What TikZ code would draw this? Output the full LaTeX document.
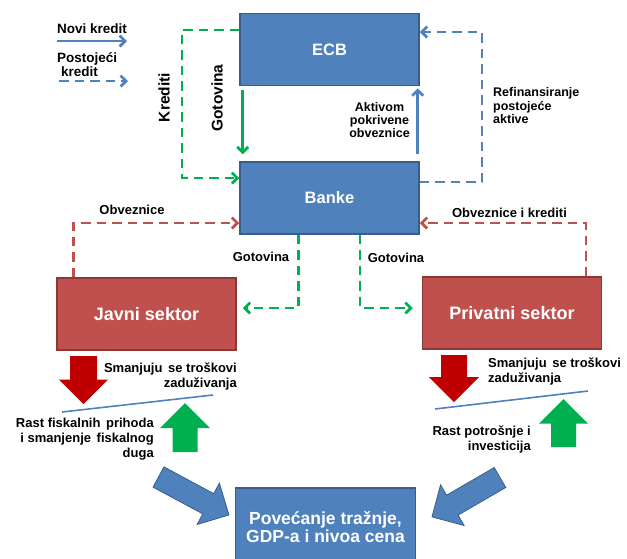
\documentclass[tikz,border=0pt]{standalone}
\usepackage{fontspec}
\setmainfont{Liberation Sans}
\usetikzlibrary{arrows.meta}

\definecolor{boxblue}{HTML}{4F81BD}
\definecolor{boxblueline}{HTML}{385D8A}
\definecolor{boxred}{HTML}{C0504D}
\definecolor{boxredline}{HTML}{8C3836}
\definecolor{arrred}{HTML}{C00000}
\definecolor{arrgreen}{HTML}{00B050}

\begin{document}
\begin{tikzpicture}
  [
    x = 1pt, y = -1pt,
    font = \bfseries\fontsize{13}{15}\selectfont,
    lbl/.style = {inner sep = 0pt},
    bluebox/.style = {draw = boxblueline, line width = 1.5pt, fill = boxblue, text = white,
        minimum width = 179pt, minimum height = 72pt, inner sep = 0pt,
        font = \bfseries\fontsize{16.5}{19}\selectfont},
    redbox/.style = {bluebox, draw = boxredline, fill = boxred,
        font = \bfseries\fontsize{18}{20}\selectfont},
    flow/.style = {line width = 2.8pt, -{Straight Barb[length = 5.5pt, width = 11pt]}},
    dashflow/.style = {flow, dash pattern = on 9.5pt off 6pt},
    blockarrow/.style = {fill = boxblue, draw = boxblueline, line width = 0.8pt},
  ]

  \useasboundingbox (0,0) rectangle (627,558);

  \node [bluebox] (ecb) at (329.5,49.5) {ECB};
  \node [bluebox] (banke) at (329.5,198) {Banke};
  \node [redbox] (javni) at (146.5,314) {Javni sektor};
  \node [redbox] (privatni) at (512,313) {Privatni sektor};
  \node [bluebox, minimum width = 180pt, minimum height = 78pt, align = center,
      font = \bfseries\fontsize{17.5}{18.5}\selectfont] (potraznja) at (325.5,527)
      {Povećanje tražnje,\\GDP-a i nivoa cena};

  \node [lbl, anchor = west, font = \bfseries\fontsize{13.5}{15}\selectfont] (novi) at (57,29) {Novi kredit};
  \node [lbl, anchor = west, align = left, font = \bfseries\fontsize{13.5}{14.5}\selectfont] (postojeci) at (57,64.5)
      {Postojeći\\\hspace{4pt}kredit};
  \coordinate (nk1) at (57,41);
  \coordinate (nk2) at (127,41);
  \coordinate (pk1) at (59,81);
  \coordinate (pk2) at (128,81);
  \draw [flow, boxblue] (nk1) -- (nk2);
  \draw [dashflow, boxblue] (pk1) -- (pk2);

  \draw [dashflow, arrgreen] ([yshift = 19.5pt]ecb.west) -| (182,100) |- ([yshift = 20pt]banke.west);
  \draw [flow, arrgreen, shorten <= 4pt, shorten >= 7pt] ([xshift = 3.5pt]ecb.south west) -- ([xshift = 3.5pt]banke.north west);
  \draw [flow, boxblue, shorten <= 7pt, shorten >= 2pt] ([xshift = -2pt]banke.north east) -- ([xshift = -2pt]ecb.south east);
  \draw [dashflow, boxblue] ([yshift = 16pt]banke.east) -| (482,100) |- ([yshift = 17.5pt]ecb.east);
  \draw [dashflow, boxred] ([xshift = 17pt]javni.north west) |- ([yshift = -25pt]banke.west);
  \draw [dashflow, boxred] ([xshift = 74pt]privatni.north) |- ([yshift = -25pt]banke.east);
  \draw [dashflow, arrgreen] ([xshift = -31pt]banke.south) |- ([xshift = 6pt, yshift = 6pt]javni.east);
  \draw [dashflow, arrgreen] ([xshift = 30.5pt]banke.south) |- ([xshift = -9pt, yshift = 5pt]privatni.west);

  \node [lbl, rotate = 90, font = \bfseries\fontsize{15.5}{18}\selectfont] (kreditilbl) at (164,97.5) {Krediti};
  \node [lbl, rotate = 90, font = \bfseries\fontsize{15.5}{18}\selectfont] (gotovinalbl) at (217,98) {Gotovina};
  \node [lbl, align = center, font = \bfseries\fontsize{12.5}{13}\selectfont] (aktivomlbl) at (379.5,120)
      {Aktivom\\pokrivene\\obveznice};
  \node [lbl, anchor = west, align = left, font = \bfseries\fontsize{12.5}{13.5}\selectfont] (refinlbl) at (493,106)
      {Refinansiranje\\postojeće\\aktive};
  \node [lbl] (obvlbl) at (132,210) {Obveznice};
  \node [lbl] (obvkrlbl) at (509.5,213) {Obveznice i krediti};
  \node [lbl] (gotlevo) at (261,257) {Gotovina};
  \node [lbl] (gotdesno) at (396,258) {Gotovina};

  \foreach \px/\py/\ang/\len/\shaft/\head/\col in
      {83.5/356/-90/48/13.5/24.5/arrred, 185/452/90/49/12.5/25/arrgreen,
       454/355/-90/47/13/25/arrred, 563.5/447/90/48/12.5/24.5/arrgreen}{
      \fill [\col, shift = {(\px,\py)}, rotate = \ang]
        (0,-\shaft) -- (\len-\head,-\shaft) -- (\len-\head,-\head) -- (\len,0)
        -- (\len-\head,\head) -- (\len-\head,\shaft) -- (0,\shaft) -- cycle;
    }

  \coordinate (javnil) at (62,412);
  \coordinate (javnid) at (213,395);
  \coordinate (privl) at (435,409);
  \coordinate (privd) at (588,391);
  \draw [boxblue, line width = 1.6pt] (javnil) -- (javnid);
  \draw [boxblue, line width = 1.6pt] (privl) -- (privd);

  \node [lbl, anchor = east, align = right] (smanjl) at (237,376.5) {Smanjuju\hspace{2pt} se troškovi\\zaduživanja};
  \node [lbl, anchor = east, align = right] (fiskal) at (154,439.5) {Rast fiskalnih\hspace{2pt} prihoda\\i smanjenje\hspace{2pt} fiskalnog\\duga};
  \node [lbl, anchor = west, align = left] (smanjd) at (488,371.5) {Smanjuju\hspace{2pt} se troškovi\\zaduživanja};
  \node [lbl, anchor = east, align = right] (potros) at (531,439.5) {Rast potrošnje i\\investicija};

  \foreach \px/\py/\ang/\len in {158.5/477/-28.3/80, 500/477.5/210.1/78.6}{
      \filldraw [blockarrow, shift = {(\px,\py)}, rotate = \ang]
        (0,-11.5) -- (\len-23.5,-11.5) -- (\len-23.5,-23.5) -- (\len,0)
        -- (\len-23.5,23.5) -- (\len-23.5,11.5) -- (0,11.5) -- cycle;
    }

\end{tikzpicture}
\end{document}
